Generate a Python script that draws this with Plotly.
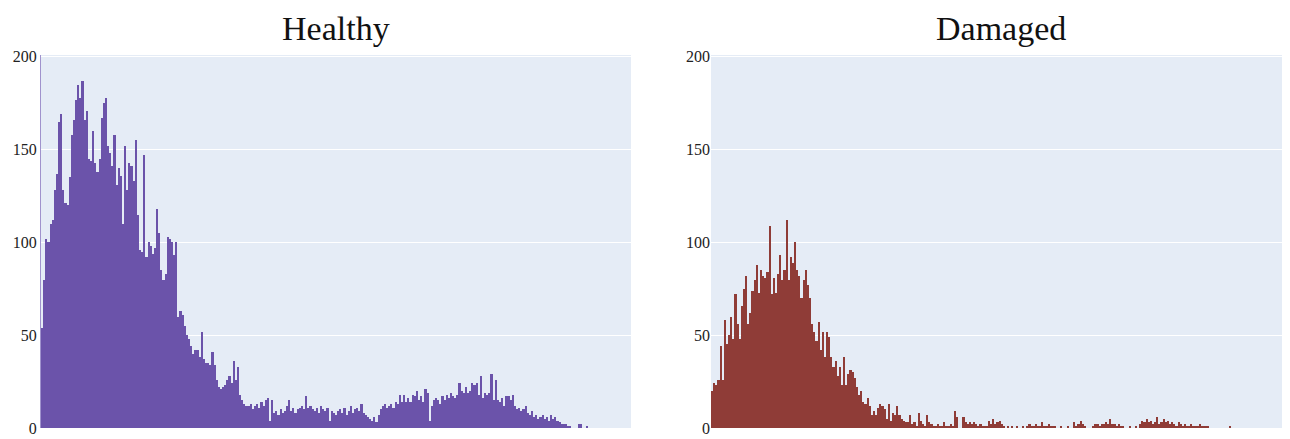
import plotly.graph_objects as go

# Histogram counts per intensity bin
healthy_counts = [
    54, 80, 102, 100, 110, 112, 128, 137, 165, 169,
    128, 121, 120, 135, 158, 166, 177, 185, 178, 187,
    166, 171, 145, 144, 160, 143, 138, 145, 167, 175,
    178, 152, 148, 141, 158, 131, 140, 136, 110, 152,
    128, 143, 141, 133, 155, 115, 96, 95, 147, 92,
    100, 98, 94, 97, 118, 105, 85, 80, 83, 103,
    102, 100, 93, 100, 60, 63, 61, 55, 50, 48,
    44, 40, 42, 42, 38, 52, 37, 35, 35, 34,
    41, 34, 26, 22, 21, 22, 23, 26, 28, 24,
    36, 26, 33, 18, 15, 13, 12, 12, 13, 10,
    12, 13, 11, 14, 12, 15, 16, 4, 15, 8,
    9, 7, 10, 8, 9, 12, 15, 9, 11, 8,
    10, 11, 12, 10, 17, 11, 12, 10, 9, 11,
    8, 12, 10, 9, 11, 4, 9, 8, 7, 9,
    10, 8, 11, 7, 9, 12, 8, 10, 11, 9,
    13, 8, 7, 6, 5, 4, 6, 3, 7, 10,
    12, 13, 11, 12, 13, 11, 14, 13, 18, 14,
    18, 14, 16, 14, 18, 17, 20, 15, 17, 14,
    21, 19, 4, 12, 15, 16, 15, 13, 17, 15,
    18, 16, 19, 17, 16, 18, 24, 20, 19, 22,
    19, 20, 24, 23, 24, 18, 28, 16, 19, 18,
    19, 29, 15, 26, 15, 14, 16, 12, 17, 17,
    15, 18, 12, 10, 11, 9, 10, 12, 8, 7,
    9, 6, 7, 5, 6, 7, 5, 6, 4, 7,
    5, 6, 4, 3, 2, 2, 2, 1, 1, 0,
    0, 0, 2, 2, 0, 0, 1,
]

damaged_counts = [
    20, 24, 23, 26, 44, 26, 58, 45, 50, 60,
    48, 72, 56, 48, 66, 75, 82, 56, 62, 74,
    80, 88, 73, 85, 82, 81, 84, 109, 72, 81,
    73, 83, 93, 80, 85, 112, 80, 92, 89, 100,
    85, 82, 70, 80, 85, 77, 70, 56, 52, 47,
    57, 42, 52, 38, 52, 49, 38, 33, 36, 28,
    33, 23, 38, 23, 29, 31, 30, 27, 22, 18,
    20, 14, 13, 16, 12, 7, 9, 7, 11, 13,
    12, 10, 5, 13, 4, 8, 7, 12, 7, 5,
    4, 3, 3, 7, 2, 3, 1, 8, 4, 2,
    1, 7, 3, 2, 1, 1, 2, 1, 1, 3,
    1, 1, 2, 1, 9, 6, 0, 0, 6, 3,
    2, 3, 2, 3, 2, 1, 2, 1, 1, 1, 4,
    2, 5, 2, 3, 4, 2, 1, 0, 1, 0,
    1, 0, 1, 0, 0, 1, 0, 1, 2, 1,
    1, 2, 1, 1, 3, 1, 1, 2, 1, 1,
    1, 0, 0, 1, 0, 0, 1, 0, 0, 3,
    1, 2, 4, 2, 1, 0, 0, 0, 1, 2,
    2, 1, 2, 2, 3, 2, 5, 2, 2, 1,
    2, 1, 1, 0, 0, 1, 0, 0, 1, 0,
    2, 4, 3, 5, 3, 4, 2, 3, 6, 2,
    3, 5, 3, 4, 2, 3, 2, 1, 3, 2,
    1, 2, 1, 1, 2, 1, 1, 1, 2, 1,
    1, 1, 1, 0, 0, 0, 0, 0, 0, 0,
    0, 0, 1,
]

titles = ["Healthy", "Damaged"]
y_ticks = [0, 50, 100, 150, 200]

healthy_bins = list(range(len(healthy_counts)))
damaged_bins = list(range(len(damaged_counts)))

SERIF = "Liberation Serif, Times New Roman, serif"
# The page body has an 8px margin, so the figure is sized to fill the rest
W, H = 1282, 431
ML, MR, MT, MB = 33, 0, 47, 11
pw = W - ML - MR

fig = go.Figure()
fig.add_trace(go.Bar(x=healthy_bins, y=healthy_counts, width=1,
                     marker=dict(color="rgb(107,83,170)", line=dict(width=0)),
                     xaxis="x", yaxis="y", showlegend=False))
fig.add_trace(go.Bar(x=damaged_bins, y=damaged_counts, width=1,
                     marker=dict(color="rgb(143,60,55)", line=dict(width=0)),
                     xaxis="x2", yaxis="y2", showlegend=False))

d1 = [0, 590 / pw]
d2 = [670 / pw, 1]

axis_y = dict(range=[0, 201], tickvals=y_ticks, ticks="", gridcolor="white",
              gridwidth=1, zeroline=False, automargin=False,
              tickfont=dict(family=SERIF, size=16, color="#222"))

fig.update_layout(
    width=W, height=H,
    margin=dict(l=ML, r=MR, t=MT, b=MB, autoexpand=False),
    paper_bgcolor="white", plot_bgcolor="#e5ecf6",
    bargap=0,
    xaxis=dict(domain=d1, range=[-0.5, 276.5], showticklabels=False,
               showgrid=False, zeroline=False, ticks="", automargin=False),
    xaxis2=dict(domain=d2, range=[-0.5, 271.3], showticklabels=False,
                showgrid=False, zeroline=False, ticks="", automargin=False),
    yaxis=dict(anchor="x", showline=True, linecolor="rgba(150,135,200,0.9)",
               linewidth=1, **axis_y),
    yaxis2=dict(anchor="x2", showline=False, **axis_y),
    annotations=[
        dict(text=titles[0], x=(d1[0] + d1[1]) / 2, y=1, xref="paper", yref="paper",
             xanchor="center", yanchor="bottom", yshift=6, showarrow=False,
             font=dict(family=SERIF, size=34, color="#111")),
        dict(text=titles[1], x=(d2[0] + d2[1]) / 2, y=1, xref="paper", yref="paper",
             xanchor="center", yanchor="bottom", yshift=6, showarrow=False,
             font=dict(family=SERIF, size=34, color="#111")),
    ],
)

fig.write_html("out.html")
